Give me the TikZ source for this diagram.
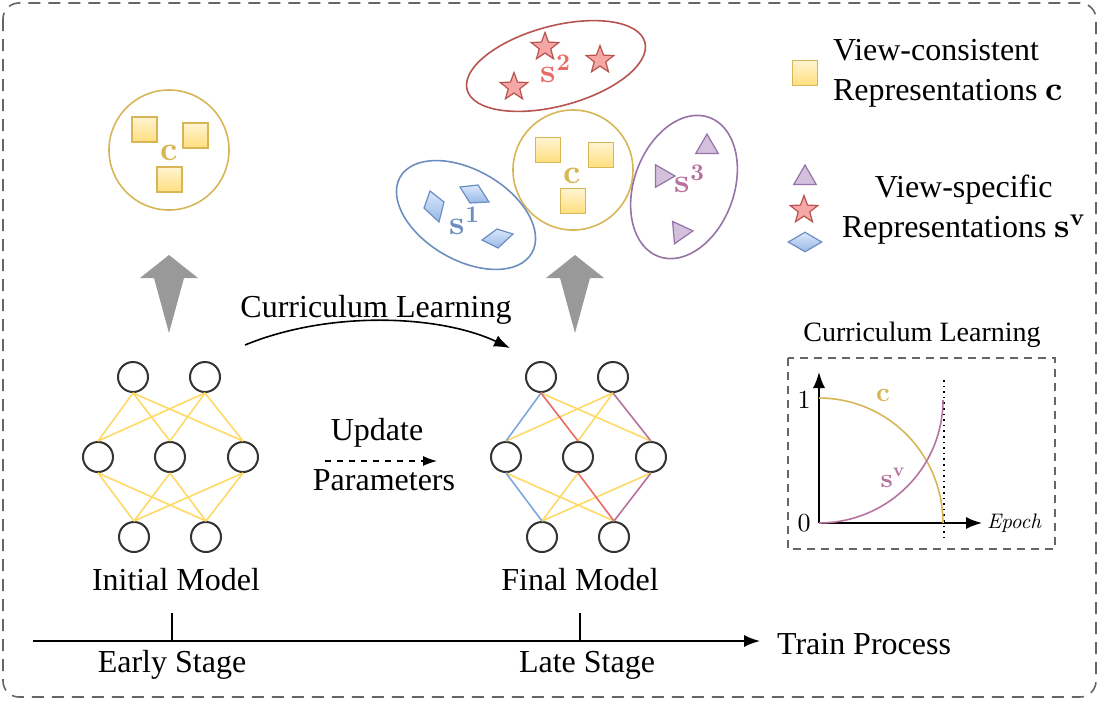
\documentclass[tikz,border=0pt]{standalone}
\usepackage[no-math]{fontspec}
\setmainfont{Liberation Serif}
\newfontfamily\lmrm{lmroman10-regular.otf}[BoldFont=lmroman10-bold.otf, ItalicFont=lmroman10-italic.otf]
\newcommand{\bsym}[1]{{\lmrm\bfseries #1}}
\usetikzlibrary{shapes.geometric,arrows.meta}

\definecolor{cyel}{HTML}{D6B656}
\definecolor{cyelL}{HTML}{FFF4D2}
\definecolor{cyelM}{HTML}{FFD966}
\definecolor{cred}{HTML}{B85450}
\definecolor{credtx}{HTML}{EA6B66}
\definecolor{cstar}{HTML}{F4A7A4}
\definecolor{cblue}{HTML}{6C8EBF}
\definecolor{cblueL}{HTML}{DAE8FC}
\definecolor{cblueM}{HTML}{7EA6E0}
\definecolor{cpurp}{HTML}{9673A6}
\definecolor{cpurptx}{HTML}{B5739D}
\definecolor{ctri}{HTML}{D3C0DD}

\tikzset{
    neuron/.style={circle, draw=black!80, line width=1pt, fill=white, minimum size=15pt, inner sep=0pt},
    wire/.style={line width=0.8pt},
    cube/.style={rectangle, draw=cyel, line width=0.8pt, top color=cyelL, bottom color=cyelM!85, minimum size=12.5pt, inner sep=0pt},
    starrep/.style={star, star points=5, star point ratio=2.4, draw=cred, fill=cstar, line width=0.6pt, minimum size=14.5pt, inner sep=0pt},
    trirep/.style={regular polygon, regular polygon sides=3, draw=cpurp, fill=ctri, line width=0.6pt, minimum size=13pt, inner sep=0pt},
    diarep/.style={draw=cblue, line width=0.6pt, top color=cblueL, bottom color=cblueM!80},
    group/.style={line width=0.8pt, inner sep=0pt},
    txt/.style={font=\fontsize{16}{20}\selectfont},
    sym/.style={font=\fontsize{17}{20}\selectfont},
    bigup/.style={fill=black!40},
    axisarrow/.style={line width=0.8pt, -{Latex[length=8pt,width=6pt]}},
}

\begin{document}
\begin{tikzpicture}[x=0.5pt, y=-0.5pt]
    \useasboundingbox (0,0) rectangle (1100,703);
    \draw[black!60, line width=0.8pt, dash pattern=on 6pt off 4pt, rounded corners=8pt] (3,3) rectangle (1096,697);

    % representations, early stage
    \node[circle, group, draw=cyel, minimum size=60pt] (C0) at (169,150) {};
    \node[cube] (q1) at (144.5,129.5) {};
    \node[cube] (q2) at (195.5,135.5) {};
    \node[cube] (q3) at (169.5,179.5) {};
    \node[sym, text=cyel] (c0) at (169,153) {\bsym{c}};

    % representations, late stage
    \node[circle, group, draw=cyel, minimum size=60pt] (C1) at (573,170) {};
    \node[cube] (q4) at (548,150) {};
    \node[cube] (q5) at (601,155) {};
    \node[cube] (q6) at (573,201) {};
    \node[sym, text=cyel] (c1) at (572,176) {\bsym{c}};

    \node[ellipse, group, draw=cred, minimum width=92pt, minimum height=40pt, rotate=15] (E2) at (556,66) {};
    \node[starrep] (st1) at (545,47) {};
    \node[starrep] (st2) at (600,60) {};
    \node[starrep] (st3) at (514,87) {};
    \node[sym, text=credtx] (s2) at (556,69) {\bsym{s}\textsuperscript{\bsym{2}}};

    \node[ellipse, group, draw=cblue, minimum width=76pt, minimum height=45pt, rotate=-30] (E1) at (466,215) {};
    \draw[diarep] (430,191) -- (444,202) -- (439,222) -- (424,208) -- cycle;
    \draw[diarep] (460,187) -- (478,185) -- (489,202) -- (470,203) -- cycle;
    \draw[diarep] (482,240) -- (497,229) -- (513,234) -- (498,248) -- cycle;
    \node[sym, text=cblue] (s1) at (465,221) {\bsym{s}\textsuperscript{\bsym{1}}};

    \node[ellipse, group, draw=cpurp, minimum width=74pt, minimum height=50pt, rotate=70] (E3) at (684,187) {};
    \node[trirep] (tr1) at (707,147) {};
    \node[trirep, rotate=-90] (tr2) at (662,176) {};
    \node[trirep, rotate=-85] (tr3) at (680,232) {};
    \node[sym, text=cpurptx] (s3) at (690,179) {\bsym{s}\textsuperscript{\bsym{3}}};

    % legend
    \node[cube] (lq) at (805,73) {};
    \node[txt, anchor=west, align=left] (lc) at (826,73) {View-consistent\\Representations {\fontsize{17}{20}\selectfont\bsym{c}}};
    \node[trirep] (lt) at (805,178) {};
    \node[starrep] (ls) at (804,210) {};
    \node[diamond, diarep, minimum width=17pt, minimum height=10pt, inner sep=0pt] (ld) at (805,242) {};
    \node[txt, anchor=west, align=center] (lv) at (835,210) {View-specific\\Representations {\fontsize{17}{20}\selectfont\bsym{s}\textsuperscript{\bsym{v}}}};

    % big arrows
    \foreach \ax in {169,575}
        \fill[bigup] (\ax,255) -- (\ax+29,278) -- (\ax+15,278) -- (\ax,333) -- (\ax-15,278) -- (\ax-29,278) -- cycle;

    % networks
    \foreach \p/\dx in {L/0,R/408}{
        \node[neuron] (\p t1) at (133+\dx,377) {};
        \node[neuron] (\p t2) at (205+\dx,377) {};
        \node[neuron] (\p m1) at (98+\dx,457) {};
        \node[neuron] (\p m2) at (170+\dx,457) {};
        \node[neuron] (\p m3) at (243+\dx,457) {};
        \node[neuron] (\p b1) at (134+\dx,537) {};
        \node[neuron] (\p b2) at (206+\dx,537) {};}

    \foreach \t in {1,2}{
        \foreach \m in {1,2,3}{
            \draw[wire, cyelM] (Lt\t.south) -- (Lm\m.north);
            \draw[wire, cyelM] (Lm\m.south) -- (Lb\t.north);}}

    \foreach \a/\b/\c in {t1/m3/cyelM, t2/m1/cyelM, t2/m2/cyelM, m1/b2/cyelM, m2/b1/cyelM, m3/b1/cyelM,
                          t1/m1/cblueM, t1/m2/credtx, t2/m3/cpurptx, m1/b1/cblueM, m2/b2/credtx, m3/b2/cpurptx}
        \draw[wire, \c] (R\a.south) -- (R\b.north);

    \node[txt] (init) at (176,580) {Initial Model};
    \node[txt] (final) at (580,580) {Final Model};

    % curriculum / update
    \coordinate (cl0) at (245,345);
    \coordinate (cl1) at (510,348);
    \draw[line width=0.8pt, -{Latex[length=8pt,width=6pt]}] (cl0) .. controls (330,310) and (440,315) .. (cl1);
    \node[txt] (cl) at (376,310) {Curriculum Learning};

    \coordinate (up0) at (325,461);
    \coordinate (up1) at (437,461);
    \draw[line width=0.6pt, dashed, -{Latex[length=7pt,width=5pt]}] (up0) -- (up1);
    \node[txt] (upd) at (377,433) {Update};
    \node[txt] (par) at (384,480) {Parameters};

    % train process axis
    \coordinate (tp0) at (33,641);
    \coordinate (tp1) at (760,641);
    \draw[axisarrow] (tp0) -- (tp1);
    \draw[line width=0.6pt] (172,613) -- (172,641);
    \draw[line width=0.6pt] (580,613) -- (580,641);
    \node[txt, anchor=west] (tp) at (770,644) {Train Process};
    \node[txt] (early) at (172,665) {Early Stage};
    \node[txt] (late) at (587,665) {Late Stage};

    % curriculum plot
    \node[font=\fontsize{14}{16}\selectfont] (ctitle) at (922,335) {Curriculum Learning};
    \draw[black!60, line width=0.8pt, dash pattern=on 4pt off 3pt] (788,358) rectangle (1055,549);
    \coordinate (O) at (819,523);
    \coordinate (Ytop) at (819,372);
    \coordinate (Xend) at (982,523);
    \draw[axisarrow] (O) -- (Ytop);
    \draw[axisarrow] (O) -- (Xend);
    \draw[line width=0.8pt, dotted] (944,380) -- (944,541);
    \draw[cyel, line width=0.8pt] plot[domain=0:90, samples=40] ({819+124*sin(\x)},{523-125*cos(\x)});
    \draw[cpurptx, line width=0.8pt] plot[domain=0:90, samples=40] ({819+124*sin(\x)},{400+123*cos(\x)});
    \node[font=\fontsize{13}{15}\selectfont\lmrm] (one) at (804,400) {1};
    \node[font=\fontsize{13}{15}\selectfont\lmrm] (zero) at (804,523) {0};
    \node[font=\fontsize{10.5}{12}\selectfont\lmrm\itshape, anchor=west] (ep) at (980,523) {Epoch};
    \node[font=\fontsize{13.5}{15}\selectfont, text=cyel] (cc) at (883,395) {\bsym{c}};
    \node[font=\fontsize{13.5}{15}\selectfont, text=cpurptx] (cs) at (893,478) {\bsym{s}\textsuperscript{\bsym{v}}};
\end{tikzpicture}
\end{document}
